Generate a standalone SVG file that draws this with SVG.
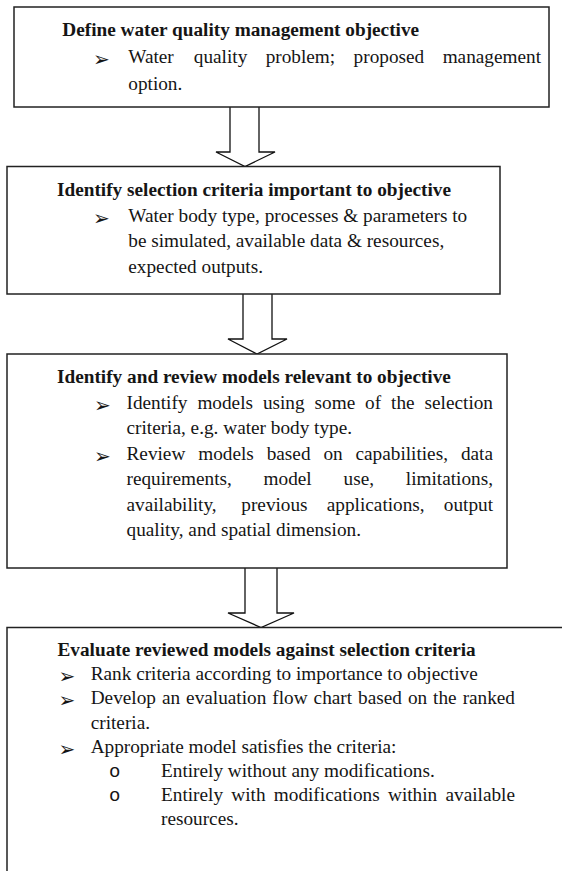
<svg xmlns="http://www.w3.org/2000/svg" width="562" height="871" viewBox="0 0 562 871">
  <style>
    .box { fill: #fff; stroke: #222; stroke-width: 1.5; }
    .arrow { fill: #fff; stroke: #111; stroke-width: 1.3; stroke-linejoin: miter; }
    text { font-family: "Liberation Serif", "Times New Roman", serif; font-size: 19.25px; fill: #151515; }
    .h { font-weight: bold; }
    .b { font-family: "DejaVu Sans", sans-serif; font-size: 20px; }
    .o { font-family: "Liberation Mono", "Courier New", monospace; font-size: 19px; }
  </style>
  <rect width="562" height="871" fill="#fff"/>

  <g id="connectors">
    <path class="arrow" d="M230,107 V152 H216 L245,166.5 L275,152 H259 V107"/>
    <path class="arrow" d="M243,294 V339 H228 L257,354 L287,339 H272 V294"/>
    <path class="arrow" d="M245,568 V613 H228 L261,627.5 L294,613 H277 V568"/>
  </g>

  <g id="objective">
    <rect class="box" x="14" y="7" width="535" height="100"/>
    <text class="h" x="62.3" y="35.5">Define water quality management objective</text>
    <text class="b" x="93" y="66">➢</text>
    <text y="63"><tspan x="128.3">Water</tspan><tspan x="193.8">quality</tspan><tspan x="265.7">problem;</tspan><tspan x="353.6">proposed</tspan><tspan x="541" text-anchor="end">management</tspan></text>
    <text x="128.3" y="89.5">option.</text>
  </g>

  <g id="criteria">
    <rect class="box" x="7" y="166.5" width="493" height="127.5"/>
    <text class="h" x="57" y="196">Identify selection criteria important to objective</text>
    <text class="b" x="93" y="224.5">➢</text>
    <text x="128.3" y="221.5">Water body type, processes &amp; parameters to</text>
    <text x="128.3" y="247">be simulated, available data &amp; resources,</text>
    <text x="128.3" y="272.5">expected outputs.</text>
  </g>

  <g id="review">
    <rect class="box" x="7" y="354" width="500" height="214"/>
    <text class="h" x="57" y="383">Identify and review models relevant to objective</text>
    <text class="b" x="94" y="411.5">➢</text>
    <text y="408.5"><tspan x="126.5">Identify</tspan><tspan x="197.4">models</tspan><tspan x="262.9">using</tspan><tspan x="314.6">some</tspan><tspan x="365.1">of</tspan><tspan x="391.1">the</tspan><tspan x="493" text-anchor="end">selection</tspan></text>
    <text x="126.5" y="434">criteria, e.g. water body type.</text>
    <text class="b" x="94" y="462.5">➢</text>
    <text y="459.5"><tspan x="126.5">Review</tspan><tspan x="198.2">models</tspan><tspan x="266.7">based</tspan><tspan x="323.4">on</tspan><tspan x="355.5">capabilities,</tspan><tspan x="493" text-anchor="end">data</tspan></text>
    <text y="485"><tspan x="126.5">requirements,</tspan><tspan x="263.6">model</tspan><tspan x="343.6">use,</tspan><tspan x="493" text-anchor="end">limitations,</tspan></text>
    <text y="510.5"><tspan x="126.5">availability,</tspan><tspan x="241.3">previous</tspan><tspan x="326.8">applications,</tspan><tspan x="493" text-anchor="end">output</tspan></text>
    <text x="126.5" y="536">quality, and spatial dimension.</text>
  </g>

  <g id="evaluate">
    <path class="box" d="M7,872 V627.5 H563"/>
    <text class="h" x="57.5" y="656">Evaluate reviewed models against selection criteria</text>
    <text class="b" x="58.5" y="683">➢</text>
    <text x="90.7" y="680.2">Rank criteria according to importance to objective</text>
    <text class="b" x="58.5" y="707.4">➢</text>
    <text y="704.4"><tspan x="90.7">Develop</tspan><tspan x="161.9">an</tspan><tspan x="186.1">evaluation</tspan><tspan x="272.3">flow</tspan><tspan x="313.6">chart</tspan><tspan x="358.1">based</tspan><tspan x="407.9">on</tspan><tspan x="433.1">the</tspan><tspan x="515" text-anchor="end">ranked</tspan></text>
    <text x="90.7" y="728.6">criteria.</text>
    <text class="b" x="58.5" y="755.8">➢</text>
    <text x="90.7" y="752.8">Appropriate model satisfies the criteria:</text>
    <text class="o" x="109" y="777">o</text>
    <text x="161" y="777">Entirely without any modifications.</text>
    <text class="o" x="109" y="801.2">o</text>
    <text y="801.2"><tspan x="161">Entirely</tspan><tspan x="231.3">with</tspan><tspan x="273.8">modifications</tspan><tspan x="388">within</tspan><tspan x="515" text-anchor="end">available</tspan></text>
    <text x="161" y="825.4">resources.</text>
  </g>
</svg>
